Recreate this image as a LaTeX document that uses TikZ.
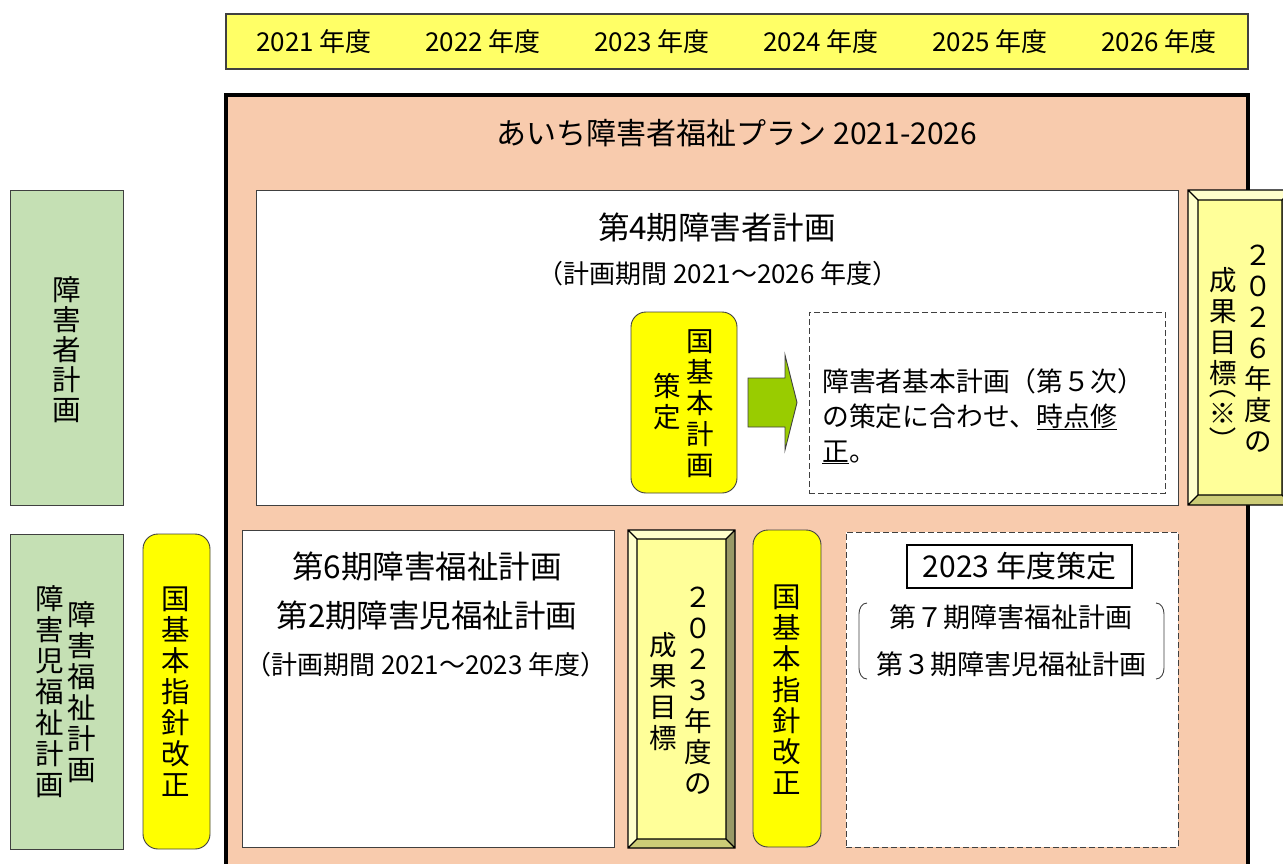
\documentclass[tikz,border=0pt]{standalone}
\usepackage{fontspec}
\setmainfont{Noto Sans CJK JP}
\usepackage[]{xcolor}
\usepackage[]{tikz}
\usetikzlibrary{positioning}
\definecolor{peach}{HTML}{F8CBAD}
\definecolor{plangreen}{HTML}{C5E0B4}
\definecolor{baryellow}{HTML}{FFFF66}
\definecolor{pillyellow}{HTML}{FFFF00}
\definecolor{bevface}{HTML}{FFFF99}
\definecolor{bevlight}{HTML}{FFFFCC}
\definecolor{bevmid}{HTML}{CCCC77}
\definecolor{bevdark}{HTML}{999966}
\definecolor{arrowgreen}{HTML}{99CC00}
\definecolor{darkline}{HTML}{404040}
\newcommand{\fsz}[2]{\fontsize{#1}{#2}\selectfont}
\tikzset{box/.style={inner sep=0pt,outer sep=0pt},
         yearbar/.style={box,draw=darkline,fill=baryellow,line width=1.2pt},
         yearlabel/.style={font=\fsz{26}{30}},
         mainbox/.style={box,draw=black,fill=peach,line width=3.5pt},
         greenbox/.style={box,draw=darkline,fill=plangreen,line width=0.9pt},
         whitebox/.style={box,draw=darkline,fill=white,line width=0.9pt},
         dashbox/.style={box,draw=darkline,fill=white,line width=0.9pt,dash pattern=on 6pt off 3pt},
         pill/.style={box,draw=darkline,fill=pillyellow,line width=0.9pt,rounded corners=15pt},
         vtext/.style={align=center,inner sep=0pt}}
% raised box: x1, y1, x2, y2, bevel
\newcommand{\bevelbox}[5]{%
  \fill[bevlight] (#1,#2) -- (#3,#2) -- (#3-#5,#2+#5) -- (#1+#5,#2+#5) -- cycle;
  \fill[bevlight] (#1,#2) -- (#1+#5,#2+#5) -- (#1+#5,#4-#5) -- (#1,#4) -- cycle;
  \fill[bevdark] (#3,#2) -- (#3,#4) -- (#3-#5,#4-#5) -- (#3-#5,#2+#5) -- cycle;
  \fill[bevmid] (#1,#4) -- (#3,#4) -- (#3-#5,#4-#5) -- (#1+#5,#4-#5) -- cycle;
  \fill[bevface] (#1+#5,#2+#5) rectangle (#3-#5,#4-#5);
  \draw[line width=1.2pt] (#1,#2) rectangle (#3,#4) (#1+#5,#2+#5) rectangle (#3-#5,#4-#5)
    (#1,#2) -- (#1+#5,#2+#5) (#3,#2) -- (#3-#5,#2+#5) (#3,#4) -- (#3-#5,#4-#5) (#1,#4) -- (#1+#5,#4-#5);}

\begin{document}
\begin{tikzpicture}[x=1pt,y=-1pt]
            \useasboundingbox (0,0) rectangle (1283,863);
            \clip (0,0) rectangle (1283,863);
            % years
            \node[yearbar,minimum width=1022pt,minimum height=55pt] (years) at (737,41.5) {};
            \foreach \yr [count=\i] in {2021,2022,2023,2024,2025,2026}
                \node[yearlabel] (y\yr) at ({314+169*(\i-1)},42) {\yr\ 年度};
            % the plan
            \node[mainbox,anchor=north west,minimum width=1022pt,minimum height=800pt] (aichi) at (226,95) {};
            \node[font=\fsz{30}{36}] (title) at (737,133) {あいち障害者福祉プラン 2021-2026};
            \node[whitebox,minimum width=922pt,minimum height=315pt] (plan4) at (717,347.5) {};
            \node[font=\fsz{31.5}{36}] (plan4name) at (717,228) {第4期障害者計画};
            \node[font=\fsz{26}{30}] (plan4term) at (718,274) {（計画期間 2021～2026 年度）};
            \node[pill,minimum width=106pt,minimum height=181pt] (kuniplan) at (684,402.5) {};
            \node[vtext,font=\fsz{27.5}{31}] (kuniplanR) at (700,404) {国\\基\\本\\計\\画};
            \node[vtext,font=\fsz{27.5}{31}] (kuniplanL) at (667,402) {策\\定};
            \draw[draw=darkline,fill=arrowgreen,line width=0.9pt] (748,378) -- (785,378) -- (785,355) -- (797,402.5) -- (785,450) -- (785,427) -- (748,427) -- cycle;
            \node[dashbox,minimum width=356pt,minimum height=181pt] (revise) at (987,402.5) {};
            \node[font=\fsz{26.8}{35},align=left,anchor=west,inner sep=0pt] (revisetext) at (822,416) {障害者基本計画（第５次）\\の策定に合わせ、\underline{時点修}\\\underline{正}。};
            % left side
            \node[greenbox,minimum width=113pt,minimum height=315pt] (side4) at (66.5,347.5) {};
            \node[vtext,font=\fsz{28.5}{30}] (side4text) at (67,350) {障\\害\\者\\計\\画};
            \node[greenbox,minimum width=113pt,minimum height=315pt] (side6) at (66.5,691.5) {};
            \node[vtext,font=\fsz{28.5}{31}] (side6R) at (82,692) {障\\害\\福\\祉\\計\\画};
            \node[vtext,font=\fsz{28.5}{31}] (side6L) at (50,692) {障\\害\\児\\福\\祉\\計\\画};
            \node[pill,minimum width=67pt,minimum height=315pt] (shishin1) at (176.5,691.5) {};
            \node[vtext,font=\fsz{28.5}{31}] (shishin1text) at (176,692) {国\\基\\本\\指\\針\\改\\正};
            % lower row
            \node[whitebox,minimum width=372pt,minimum height=317pt] (plan6) at (428,688.5) {};
            \node[font=\fsz{31.5}{36}] (plan6name) at (427,567) {第6期障害福祉計画};
            \node[font=\fsz{31.5}{36}] (plan2name) at (427,616) {第2期障害児福祉計画};
            \node[font=\fsz{26}{30}] (plan6term) at (426,665) {（計画期間 2021～2023 年度）};
            \bevelbox{628}{530}{735}{848}{9}
            \node[vtext,font=\fsz{27.5}{31}] (goal23R) at (698,691) {２\\０\\２\\３\\年\\度\\の};
            \node[vtext,font=\fsz{27.5}{31}] (goal23L) at (663,692) {成\\果\\目\\標};
            \node[pill,minimum width=68pt,minimum height=317pt] (shishin2) at (787,688.5) {};
            \node[vtext,font=\fsz{28.5}{31}] (shishin2text) at (787,690) {国\\基\\本\\指\\針\\改\\正};
            \node[dashbox,minimum width=332pt,minimum height=315pt] (next) at (1012,689.5) {};
            \node[draw,line width=1.5pt,minimum width=225pt,minimum height=43pt,inner sep=0pt,font=\fsz{30}{34}] (fix23) at (1019.5,566.5) {2023 年度策定};
            \node[font=\fsz{27}{47},align=center] (next7) at (1011,640.5) {第７期障害福祉計画\\第３期障害児福祉計画};
            \draw[darkline,line width=0.9pt] (867,603) to[out=180,in=90] (859,614) -- (859,668) to[out=-90,in=180] (867,679);
            \draw[darkline,line width=0.9pt] (1156,603) to[out=0,in=90] (1164,614) -- (1164,668) to[out=-90,in=0] (1156,679);
            % 2026 goal
            \bevelbox{1188}{190}{1292}{505}{10}
            \node[vtext,font=\fsz{27.5}{31}] (goal26R) at (1258,349) {２\\０\\２\\６\\年\\度\\の};
            \node[vtext,font=\fsz{27.5}{31}] (goal26L) at (1223,327) {成\\果\\目\\標};
            \node[inner sep=0pt,rotate=-90,font=\fsz{27.5}{31}] (goal26note) at (1223,413) {（※）};
        \end{tikzpicture}
\end{document}
